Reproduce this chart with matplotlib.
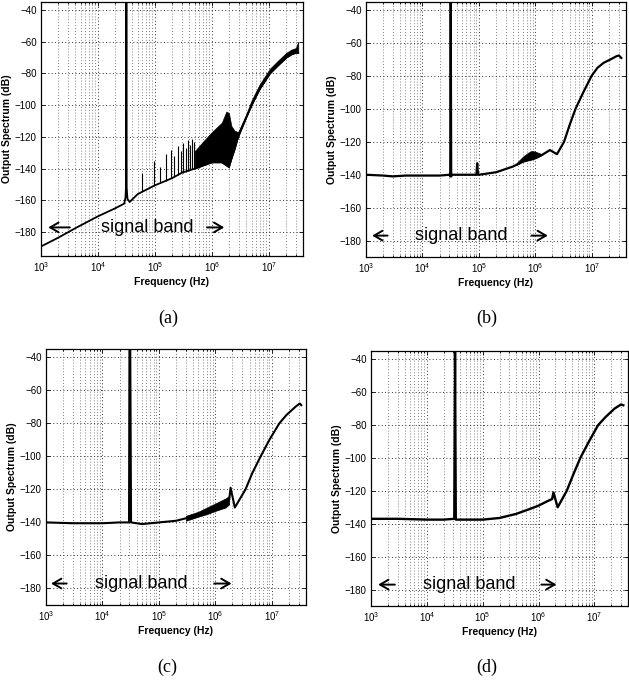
import numpy as np
import matplotlib
matplotlib.use('Agg')
import matplotlib.pyplot as plt
from matplotlib.ticker import LogLocator, NullFormatter

plt.rcParams['font.family'] = ['Liberation Sans Narrow', 'Liberation Sans', 'DejaVu Sans']
plt.rcParams['mathtext.default'] = 'regular'

# ---------------- data ----------------
# panel (a)
a_freq = [1e3, 2e3, 4e3, 1e4, 2e4, 2.9e4, 3.05e4, 3.12e4, 3.16e4, 3.2e4, 3.3e4, 3.6e4,
          5e4, 1e5, 2e5, 3e5, 5e5, 7e5, 1e6, 1.5e6, 2e6, 2.2e6, 2.5e6, 2.9e6, 4e6, 5e6,
          6.9e6, 1.05e7, 1.45e7, 2.04e7, 2.5e7, 3e7, 3.3e7]
a_db = [-189, -183.5, -177.5, -170, -165, -162, -158, -150, -35, -152, -159, -161,
        -156, -150.5, -146, -142.5, -140, -138, -136, -136, -139, -134, -128, -120, -108, -100,
        -90, -80, -75, -70, -68, -67, -67]
a_band_f = [5e5, 7e5, 1e6, 1.5e6, 1.8e6, 2e6, 2.2e6, 2.5e6, 2.9e6, 4e6, 5e6, 6.9e6, 1.05e7,
            1.45e7, 2.04e7, 2.5e7, 3e7, 3.3e7]
a_band_lo = [-140, -138, -136, -136, -138, -139, -134, -128, -120, -108, -100, -90, -80,
             -75, -70, -68, -67, -67]
a_band_hi = [-129, -123, -117, -111, -104, -105, -113, -116, -117, -106, -97, -87, -77,
             -72, -67, -65, -64, -60]
a_spike_f = [6.0e4, 9.5e4, 1.25e5, 1.55e5, 1.9e5, 2.2e5, 2.5e5, 2.85e5, 3.15e5, 3.5e5, 3.8e5,
             4.1e5, 4.5e5, 4.8e5]
a_spike_top = [-143, -135, -139, -131, -128, -132, -126, -129, -124, -127, -122, -125, -121, -123]
a_spike_base = [-154, -151, -149, -147.5, -146, -145, -144, -143, -142.5, -142, -141.5,
                -141, -140.5, -140]

# panel (b)
b_freq = [1e3, 2e3, 3e3, 5e3, 1e4, 2e4, 3e4, 3.1e4, 3.16e4, 3.22e4, 3.3e4, 5e4, 9e4, 9.3e4,
          9.6e4, 1e5, 2e5, 4e5, 6e5, 9e5, 1.3e6, 1.8e6, 2.4e6, 3.2e6, 4e6, 5.1e6, 7e6, 9.8e6,
          1.25e7, 1.6e7, 2.1e7, 2.7e7, 3e7, 3.3e7]
b_db = [-140, -140.5, -141, -140.5, -140.5, -140.5, -140, -141, -35, -141, -140, -140, -140,
        -133, -140, -140, -138.5, -135, -132, -130.5, -128, -125, -127.5, -120, -110, -100,
        -90, -80, -75, -72, -70, -68, -67.5, -69]
b_band_f = [4.6e5, 6e5, 7.5e5, 8.6e5, 1.0e6, 1.3e6]
b_band_lo = [-134, -132, -131, -130.5, -130, -128]
b_band_hi = [-133, -129, -126.5, -125.5, -126, -127.5]

# panel (c)
c_freq = [1e3, 3e3, 1e4, 2e4, 2.95e4, 3.0e4, 3.1e4, 3.2e4, 5e4, 1e5, 2e5, 3e5, 5e5, 7e5,
          1e6, 1.5e6, 1.75e6, 1.85e6, 2.2e6, 3.4e6, 4.5e6, 6.3e6, 9e6, 1.35e7, 1.8e7, 2.6e7,
          3.1e7, 3.3e7]
c_db = [-140, -140.5, -140.5, -140, -140, -35, -35, -140, -141, -140, -139, -137.5, -135,
        -133, -131, -128, -126, -119, -131, -120, -110, -100, -90, -80, -75, -70, -68, -69]
c_band_f = [3e5, 5e5, 7e5, 1e6, 1.5e6, 1.75e6]
c_band_lo = [-139, -136.5, -135, -133, -131, -129]
c_band_hi = [-136, -133.5, -131, -128.5, -125.5, -124]

# panel (d)
d_freq = [1e3, 3e3, 1e4, 2e4, 3.1e4, 3.2e4, 3.3e4, 5e4, 1e5, 2e5, 4e5, 7e5, 1e6, 1.5e6,
          1.75e6, 1.85e6, 2.2e6, 3.2e6, 4.2e6, 5.6e6, 8e6, 1.17e7, 1.6e7, 2.3e7, 3e7, 3.3e7]
d_db = [-137, -137, -137.5, -137.5, -137, -35, -137.5, -137.5, -137.5, -136.5, -134, -131,
        -129, -126, -125, -121, -130, -120, -110, -100, -90, -80, -75, -70, -67.5, -68]

y_ticks = [-180, -160, -140, -120, -100, -80, -60, -40]
x_ticks = [1e3, 1e4, 1e5, 1e6, 1e7]
x_ticklabels = ['$10^{3}$', '$10^{4}$', '$10^{5}$', '$10^{6}$', '$10^{7}$']
captions = ['(a)', '(b)', '(c)', '(d)']

W, H = 629, 681
fig = plt.figure(figsize=(W / 100, H / 100), dpi=100)

# axes rectangles in pixels: left, top, right, bottom
rects = [(41, 2, 303, 256), (366, 2, 626, 257), (46, 349, 306, 605), (371, 351, 628, 606)]
ylims = [(-195, -35), (-190, -35), (-190, -35), (-190, -35)]
axes = []
for (l, t, r, b) in rects:
    ax = fig.add_axes([l / W, 1 - b / H, (r - l) / W, (b - t) / H])
    axes.append(ax)

for ax, yl in zip(axes, ylims):
    ax.set_xscale('log')
    ax.set_xlim(1e3, 4e7)
    ax.set_ylim(*yl)
    ax.set_yticks(y_ticks)
    ax.set_xticks(x_ticks)
    ax.set_xticklabels(x_ticklabels)
    ax.xaxis.set_minor_locator(LogLocator(base=10, subs=np.arange(2, 10)))
    ax.xaxis.set_minor_formatter(NullFormatter())
    ax.grid(True, which='major', axis='both', linestyle=(0, (1, 2.5)), color='0.2', linewidth=0.7)
    ax.grid(True, which='minor', axis='x', linestyle=(0, (1, 2.5)), color='0.35', linewidth=0.6)
    ax.tick_params(which='both', direction='in', top=True, right=True, labelsize=7,
                   length=3, width=0.6, pad=3)
    ax.tick_params(which='minor', length=1.5)
    for s in ax.spines.values():
        s.set_linewidth(0.9)
    ax.set_xlabel('Frequency (Hz)', fontsize=7.5, fontweight='bold', labelpad=2)
    ax.set_ylabel('Output Spectrum (dB)', fontsize=7.5, fontweight='bold', labelpad=2)
    ax.set_axisbelow(True)

lw = 1.3
# (a)
ax = axes[0]
ax.fill_between(a_band_f, a_band_lo, a_band_hi, color='k', lw=0.5)
ax.vlines(a_spike_f, a_spike_base, a_spike_top, color='k', lw=0.8)
ax.plot(a_freq, a_db, color='k', lw=lw)
# (b)
ax = axes[1]
ax.fill_between(b_band_f, b_band_lo, b_band_hi, color='k', lw=0.5)
ax.plot(b_freq, b_db, color='k', lw=lw + 0.3)
# (c)
ax = axes[2]
ax.fill_between(c_band_f, c_band_lo, c_band_hi, color='k', lw=0.5)
ax.plot(c_freq, c_db, color='k', lw=lw + 0.2)
# (d)
ax = axes[3]
ax.plot(d_freq, d_db, color='k', lw=lw + 0.4)

# signal band annotations
sb_text_x = [7.4e4, 4.8e4, 4.9e4, 5.8e4]
sb_left = [(1.2e3, 3.6e3), (1.15e3, 2.7e3), (1.1e3, 2.6e3), (1.2e3, 3.0e3)]
sb_right = [(7.4e5, 1.85e6), (7.6e5, 1.85e6), (8.5e5, 2.15e6), (1.0e6, 2.35e6)]
sb_y = [-177, -177, -177, -177]
for ax, tx, lft, rgt, y in zip(axes, sb_text_x, sb_left, sb_right, sb_y):
    ax.text(tx, y, 'signal band', fontsize=13, ha='center', va='center',
            family=['Liberation Sans', 'DejaVu Sans'])
    ax.annotate('', xy=(lft[0], y), xytext=(lft[1], y),
                arrowprops=dict(arrowstyle='->,head_length=0.6,head_width=0.35', lw=1.4, color='k'))
    ax.annotate('', xy=(rgt[1], y), xytext=(rgt[0], y),
                arrowprops=dict(arrowstyle='->,head_length=0.6,head_width=0.35', lw=1.4, color='k'))

cap_pos = [(168, 318), (487, 318), (167, 667), (487, 667)]
for c, (x, y) in zip(captions, cap_pos):
    fig.text(x / W, 1 - y / H, c, fontsize=13, ha='center', va='center',
             family=['Liberation Serif', 'DejaVu Serif'])

fig.savefig('out.png', dpi=100)
